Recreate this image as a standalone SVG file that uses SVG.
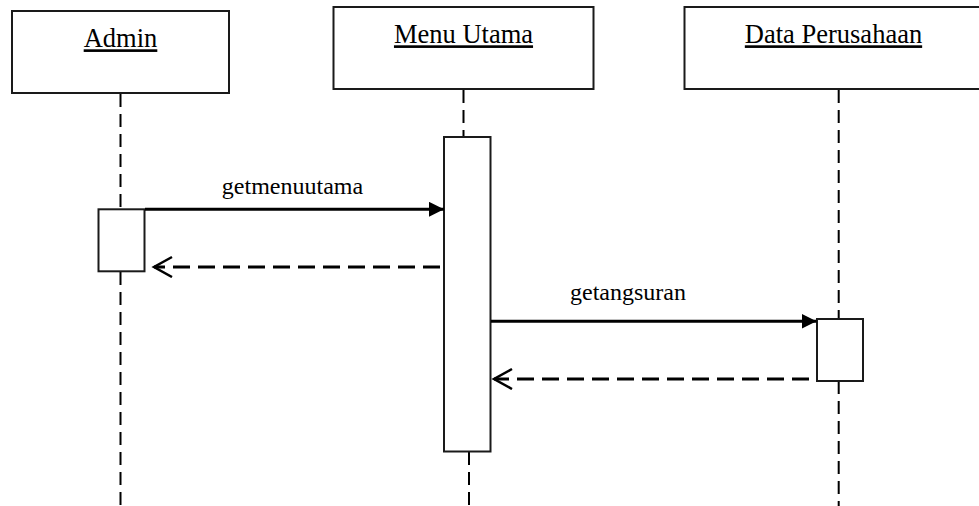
<svg xmlns="http://www.w3.org/2000/svg" width="979" height="506" viewBox="0 0 979 506">
<defs>
<style>
.box{fill:#fff;stroke:#1a1a1a;stroke-width:2}
.life{stroke:#000;stroke-width:2;stroke-dasharray:13 7;fill:none}
.msg{stroke:#000;stroke-width:3;fill:none}
.ret{stroke:#000;stroke-width:3;stroke-dasharray:17 8;fill:none}
.head{font-size:26.5px;fill:#000;text-decoration:underline}
.lbl{font-size:24px;fill:#000}
</style>
<marker id="filled" markerWidth="16" markerHeight="16" refX="15" refY="7.5" orient="auto" markerUnits="userSpaceOnUse">
<path d="M0,0 L15,7.5 L0,15 Z" fill="#000"/>
</marker>
<marker id="open" markerWidth="24" markerHeight="24" refX="20" refY="11" orient="auto" markerUnits="userSpaceOnUse">
<path d="M2,1 L20,11 L2,21" fill="none" stroke="#000" stroke-width="2.5"/>
</marker>
</defs>
<rect width="979" height="506" fill="#fff"/>
<g id="lifelines">
<line class="life" x1="120.5" y1="94" x2="120.5" y2="209"/>
<line class="life" x1="120.5" y1="272" x2="120.5" y2="506"/>
<line class="life" x1="463.5" y1="90" x2="463.5" y2="137"/>
<line class="life" x1="469" y1="452" x2="469" y2="506"/>
<line class="life" x1="838.7" y1="90" x2="838.7" y2="319"/>
<line class="life" x1="838.7" y1="381" x2="838.7" y2="506"/>
</g>
<g id="admin">
<rect class="box" x="12" y="11" width="217" height="82"/>
<text class="head" font-family="'Liberation Serif', 'Times New Roman', serif" x="120.5" y="47.3" text-anchor="middle">Admin</text>
</g>
<g id="menu-utama">
<rect class="box" x="333.5" y="7" width="260" height="82"/>
<text class="head" font-family="'Liberation Serif', 'Times New Roman', serif" x="463.5" y="43.3" text-anchor="middle">Menu Utama</text>
</g>
<g id="data-perusahaan">
<rect class="box" x="684.5" y="7" width="300" height="82"/>
<text class="head" font-family="'Liberation Serif', 'Times New Roman', serif" x="833.5" y="43.3" text-anchor="middle">Data Perusahaan</text>
</g>
<g id="admin-activation">
<rect class="box" x="98.5" y="209.3" width="46" height="62"/>
</g>
<g id="menu-activation">
<rect class="box" x="444" y="137" width="46.5" height="314.5"/>
</g>
<g id="dp-activation">
<rect class="box" x="817" y="319" width="46" height="62"/>
</g>
<g id="connectors">
<line class="msg" x1="145" y1="209.3" x2="444" y2="209.3" marker-end="url(#filled)"/>
<text class="lbl" font-family="'Liberation Serif', 'Times New Roman', serif" x="292.5" y="194.3" text-anchor="middle">getmenuutama</text>
<line class="ret" x1="440" y1="267" x2="154" y2="267" marker-end="url(#open)"/>
<line class="msg" x1="491" y1="321.3" x2="816.5" y2="321.3" marker-end="url(#filled)"/>
<text class="lbl" font-family="'Liberation Serif', 'Times New Roman', serif" x="628" y="300" text-anchor="middle">getangsuran</text>
<line class="ret" x1="809" y1="379" x2="494" y2="379" marker-end="url(#open)"/>
</g>
</svg>
